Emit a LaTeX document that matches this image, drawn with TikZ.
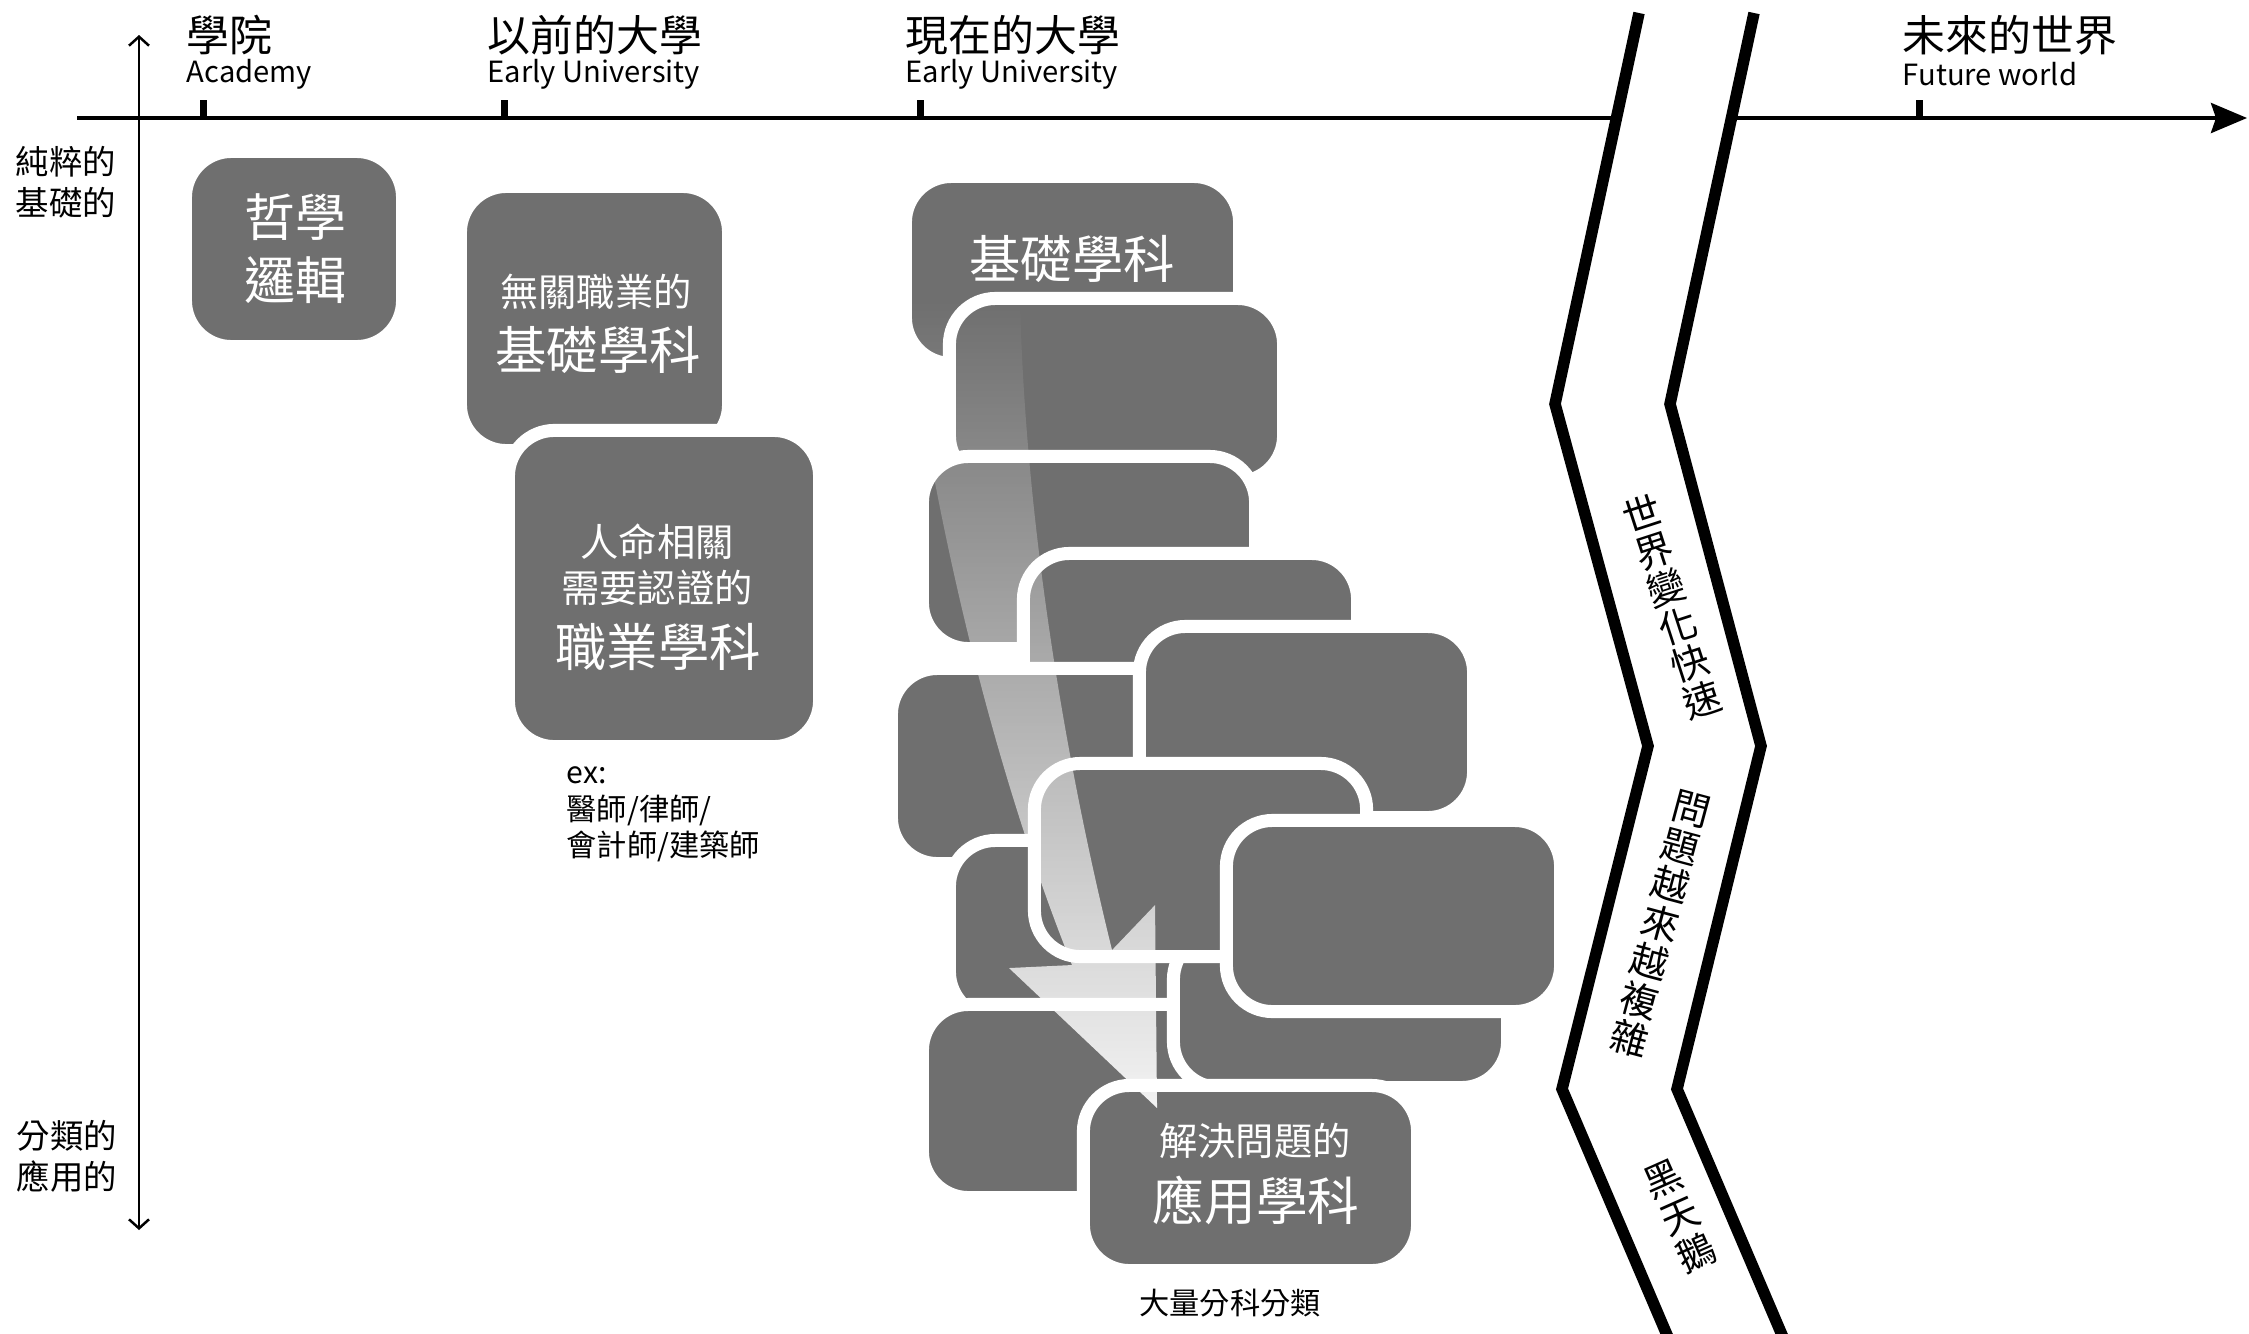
\documentclass[tikz,border=0pt]{standalone}
\usepackage{fontspec}
\setmainfont{Noto Sans CJK TC}
\usetikzlibrary{arrows.meta,fadings}
\definecolor{boxgray}{HTML}{6F6F6F}
\newcommand\myfs[2]{\fontsize{#1}{#2}\selectfont}
\tikzfading[name=arrowfade, top color=transparent!100, bottom color=transparent!8]
\begin{document}
\begin{tikzpicture}[x=0.01cm,y=-0.01cm,
  box/.style={fill=boxgray, draw=white, line width=0.13cm, rounded corners=0.46cm, inner sep=0pt, outer sep=0pt},
  wt/.style={text=white, align=center, inner sep=0pt},
  lbl/.style={text=black, inner sep=0pt, anchor=west, align=left},
  sub/.style={lbl, font=\myfs{8.3pt}{10pt}},
  ttl/.style={lbl, font=\myfs{12.2pt}{14pt}},
  ctr/.style={text=black, inner sep=0pt, align=center},
  zig/.style={line width=0.115cm, miter limit=10},
  ax/.style={line width=0.04cm},
  tickmark/.style={line width=0.07cm},
  vtxt/.style={align=center, inner sep=0pt}]
\useasboundingbox (0,0) rectangle (2249,1333);

% axes
\coordinate (h0) at (77,118);
\coordinate (h1) at (1616,118);
\coordinate (h2) at (1731,118);
\coordinate (h3) at (2247,118);
\draw[ax] (h0) -- (h1);
\draw[ax, -{Stealth[length=0.36cm,width=0.30cm,inset=0.05cm]}] (h2) -- (h3);
\coordinate (v0) at (139,35);
\coordinate (v1) at (139,1230);
\draw[line width=0.025cm, {Straight Barb[length=0.09cm,width=0.2cm]}-{Straight Barb[length=0.09cm,width=0.2cm]}] (v0) -- (v1);

% ticks
\foreach \x/\n in {203/ta,504/tb,920/tc,1919/td}{
  \coordinate (\n) at (\x,100);
  \draw[tickmark] (\n) -- (\x,118);
}

% titles
\node[ttl] (t1) at (186,35) {學院};
\node[sub] (s1) at (186,74) {Academy};
\node[ttl] (t2) at (487,35) {以前的大學};
\node[sub] (s2) at (487,74) {Early University};
\node[ttl] (t3) at (905,35) {現在的大學};
\node[sub] (s3) at (905,74) {Early University};
\node[ttl] (t4) at (1902,35) {未來的世界};
\node[sub] (s4) at (1902,74) {Future world};

% y labels
\node[lbl, font=\myfs{9.5pt}{11.7pt}] (y1) at (15,182) {純粹的\\基礎的};
\node[lbl, font=\myfs{9.5pt}{11.7pt}] (y2) at (16,1156) {分類的\\應用的};

% left column boxes
\node[box, minimum width=2.17cm, minimum height=1.95cm] (P) at (294,249) {};
\node[wt, font=\myfs{14.5pt}{17pt}] (P1) at (295,217) {哲學};
\node[wt, font=\myfs{14.5pt}{17pt}] (P2) at (295,280) {邏輯};

\node[box, minimum width=2.68cm, minimum height=2.64cm] (Q) at (594.5,318.5) {};
\node[wt, font=\myfs{10.9pt}{13pt}] (Q1) at (596,292) {無關職業的};
\node[wt, font=\myfs{14.6pt}{17pt}] (Q2) at (598,350) {基礎學科};

\node[box, minimum width=3.11cm, minimum height=3.16cm] (R) at (664,588.5) {};
\node[wt, font=\myfs{10.9pt}{13pt}] (R1) at (657,542) {人命相關};
\node[wt, font=\myfs{10.9pt}{13pt}] (R2) at (657,588) {需要認證的};
\node[wt, font=\myfs{14.6pt}{17pt}] (R3) at (658,647) {職業學科};

\node[lbl, font=\myfs{8.6pt}{10pt}] (ex1) at (566,775) {ex:};
\node[lbl, font=\myfs{8.6pt}{10pt}] (ex2) at (566,810) {醫師/律師/};
\node[lbl, font=\myfs{8.6pt}{10pt}] (ex3) at (566,846) {會計師/建築師};

% center stack
\node[box, minimum width=3.34cm, minimum height=1.87cm] (A) at (1072.5,270) {};
\node[wt, font=\myfs{14.6pt}{17pt}] (A1) at (1072,259) {基礎學科};
\node[box, minimum width=3.34cm, minimum height=1.83cm] (B) at (1116.5,390) {};
\node[box, minimum width=3.33cm, minimum height=1.92cm] (C) at (1089,552.5) {};
\node[box, minimum width=3.34cm, minimum height=1.88cm] (D) at (1190.5,647.5) {};
\node[box, minimum width=3.34cm, minimum height=1.95cm] (F) at (1058.5,766) {};
\node[box, minimum width=3.34cm, minimum height=1.91cm] (E) at (1306.5,722) {};
\node[box, minimum width=3.34cm, minimum height=1.77cm] (H) at (1116.5,929) {};
\node[box, minimum width=3.34cm, minimum height=1.93cm] (K) at (1089.5,1101) {};
\node[box, minimum width=3.34cm, minimum height=1.54cm] (J) at (1340.5,1010.5) {};
\node[box, minimum width=3.32cm, minimum height=1.93cm] (G) at (1200.5,860) {};
\node[box, minimum width=3.34cm, minimum height=1.91cm] (I) at (1393.5,916) {};
\node[box, minimum width=3.34cm, minimum height=1.85cm] (L) at (1250.5,1178) {};

% fading arrow
\fill[white, path fading=arrowfade] (905,300) .. controls (935,520) and (990,760) .. (1072,965)
  -- (1009,968) -- (1157,1108) -- (1155,905) -- (1112,950)
  .. controls (1065,760) and (1025,520) .. (1020,300) -- cycle;

\node[wt, font=\myfs{10.9pt}{13pt}] (L1) at (1255,1141) {解決問題的};
\node[wt, font=\myfs{14.7pt}{17pt}] (L2) at (1256,1200) {應用學科};
\node[ctr, font=\myfs{8.6pt}{10pt}] (note) at (1230,1303) {大量分科分類};

% zigzag break
\draw[zig] (1639,13) -- (1555,404) -- (1648,746) -- (1562,1089) -- (1670,1342);
\draw[zig] (1754,13) -- (1670,404) -- (1761,746) -- (1677,1089) -- (1785,1342);

\node[vtxt, rotate=18, font=\myfs{10.8pt}{11.07pt}] (z1) at (1672,607) {世\\界\\變\\化\\快\\速};
\node[vtxt, rotate=-15, font=\myfs{10.8pt}{11.3pt}] (z2) at (1660,924) {問\\題\\越\\來\\越\\複\\雜};
\node[vtxt, rotate=24, font=\myfs{10.8pt}{11.5pt}] (z3) at (1680,1216) {黑\\天\\鵝};
\end{tikzpicture}
\end{document}
